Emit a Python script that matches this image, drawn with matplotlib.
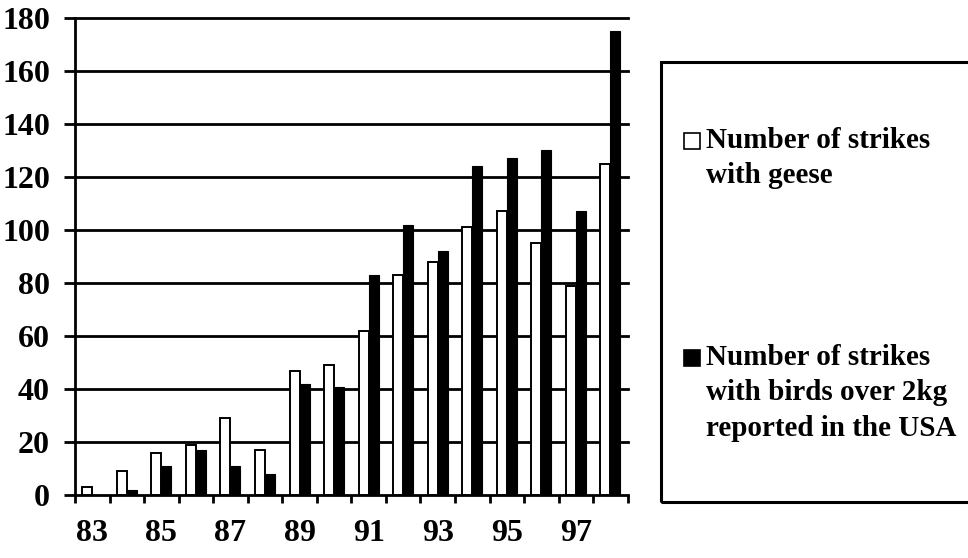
import matplotlib
matplotlib.use('Agg')
import matplotlib.pyplot as plt
from matplotlib.patches import Rectangle
import numpy as np

years = ['83', '84', '85', '86', '87', '88', '89', '90',
         '91', '92', '93', '94', '95', '96', '97', '98']
geese = [3, 9, 16, 19, 29, 17, 47, 49, 62, 83, 88, 101, 107, 95, 79, 125]
over_2kg = [0, 2, 11, 17, 11, 8, 42, 41, 83, 102, 92, 124, 127, 130, 107, 175]
legend_labels = ['Number of strikes\nwith geese',
                 'Number of strikes\nwith birds over 2kg\nreported in the USA']

plt.rcParams['font.family'] = ['Liberation Serif', 'DejaVu Serif']
plt.rcParams['font.weight'] = 'bold'

fig = plt.figure(figsize=(9.68, 5.58), dpi=100)
ax = fig.add_axes([0.0775, 0.1124, 0.6485 - 0.0775, 0.968 - 0.1124])

x = np.arange(len(years))
w = 0.29
ax.bar(x - 0.145, geese, w, color='white', edgecolor='black', linewidth=1.4, zorder=3)
ax.bar(x + 0.145, over_2kg, w, color='black', edgecolor='black', linewidth=0.8, zorder=3)

ax.set_xlim(-0.5, len(years) - 0.5)
ax.set_ylim(0, 180)
yt = np.arange(0, 181, 20)
ax.set_yticks(yt)
ax.set_yticklabels([str(v) for v in yt], fontsize=23, fontweight='bold')
for v in yt[1:]:
    ax.axhline(v, color='black', linewidth=2, zorder=1, clip_on=False)

# ticks between categories, labels every second year at the centres
ax.set_xticks(np.arange(-0.5, len(years), 1.0))
ax.set_xticklabels([])
ax.set_xticks(x[::2], minor=True)
ax.set_xticklabels(years[::2], minor=True, fontsize=23, fontweight='bold')
ax.tick_params(axis='x', which='major', direction='out', length=6, width=2)
ax.tick_params(axis='x', which='minor', length=0, pad=17)
ax.tick_params(axis='y', direction='out', length=8, width=2, pad=10)

ax.spines['top'].set_visible(False)
ax.spines['right'].set_visible(False)
ax.spines['left'].set_linewidth(2)
ax.spines['bottom'].set_linewidth(2)

# legend box drawn by hand so the swatch sits on the first line
W, H = 968.0, 558.0
fig.patches.append(Rectangle((661 / W, 1 - 502 / H), (975 - 661) / W, (502 - 62) / H,
                             transform=fig.transFigure, fill=False,
                             edgecolor='black', linewidth=2.2))
swatch = [('white', 141), ('black', 358)]
for (fc, ycen), label in zip(swatch, legend_labels):
    fig.patches.append(Rectangle((684 / W, 1 - (ycen + 8) / H), 16 / W, 16 / H,
                                 transform=fig.transFigure, facecolor=fc,
                                 edgecolor='black', linewidth=1.2))
    fig.text(706 / W, 1 - (ycen - 14) / H, label, fontsize=21, fontweight='bold',
             va='top', ha='left', linespacing=1.4)

fig.savefig('out.png', dpi=100)
